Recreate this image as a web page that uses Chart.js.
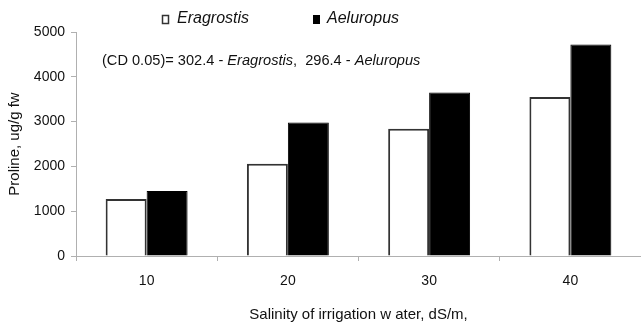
<!DOCTYPE html>
<html>
<head>
<meta charset="utf-8">
<script src="https://cdn.jsdelivr.net/npm/chart.js@4.4.0/dist/chart.umd.min.js"></script>
<style>
  html, body { margin: 0; padding: 0; background: #fff; }
  #wrap { width: 641px; height: 325px; }
</style>
</head>
<body>
<div id="wrap"><canvas id="prolineChart" width="641" height="325"></canvas></div>
<script>
// salinity of irrigation water, dS/m
const salinity = ["10", "20", "30", "40"];
// proline content, ug/g fw
const eragrostis = [1270, 2060, 2840, 3550];
const aeluropus = [1450, 2980, 3650, 4720];
const yTicks = [0, 1000, 2000, 3000, 4000, 5000];

const font = "'Liberation Sans', Arial, sans-serif";
const axisGrey = "#b0b0b0";

// legend + CD note drawn by hand so they sit where the original puts them
const notesPlugin = {
  id: "notes",
  afterDraw(chart) {
    const ctx = chart.ctx;
    ctx.save();
    ctx.textBaseline = "middle";
    ctx.fillStyle = "#111";

    // legend
    ctx.lineWidth = 1.5;
    ctx.strokeStyle = "#333";
    ctx.fillStyle = "#fff";
    ctx.fillRect(162.5, 15.5, 6, 8);
    ctx.strokeRect(162.5, 15.5, 6, 8);
    ctx.fillStyle = "#000";
    ctx.fillRect(313, 15, 7, 9);
    ctx.fillStyle = "#111";
    ctx.font = "italic 16px " + font;
    ctx.fillText("Eragrostis", 177, 19);
    ctx.fillText("Aeluropus", 327, 19);

    // CD note, species names in italics
    const parts = [
      ["(CD 0.05)= 302.4 - ", false],
      ["Eragrostis", true],
      [",  296.4 - ", false],
      ["Aeluropus", true],
    ];
    let x = 102;
    parts.forEach(([txt, it]) => {
      ctx.font = (it ? "italic " : "") + "14.6px " + font;
      ctx.fillText(txt, x, 61);
      x += ctx.measureText(txt).width;
    });
    ctx.restore();
  },
};

new Chart(document.getElementById("prolineChart").getContext("2d"), {
  type: "bar",
  data: {
    labels: salinity,
    datasets: [
      {
        label: "Eragrostis",
        data: eragrostis,
        backgroundColor: "#fff",
        borderColor: "#333",
        borderWidth: 2,
      },
      {
        label: "Aeluropus",
        data: aeluropus,
        backgroundColor: "#000",
        borderColor: "#000",
        borderWidth: 1,
      },
    ],
  },
  options: {
    responsive: false,
    animation: false,
    events: [],
    categoryPercentage: 0.58,
    barPercentage: 1.0,
    layout: { padding: { top: 32, right: 0, bottom: 0, left: 0 } },
    plugins: {
      legend: { display: false },
      tooltip: { enabled: false },
    },
    scales: {
      x: {
        afterFit: (scale) => {
          scale.height = 69;
        },
        grid: {
          offset: true,
          drawOnChartArea: false,
          tickLength: 5,
          color: axisGrey,
        },
        border: { color: axisGrey, width: 1 },
        ticks: {
          padding: 12,
          color: "#111",
          font: { family: font, size: 14 },
        },
        title: {
          display: true,
          text: "Salinity of irrigation w ater, dS/m,",
          color: "#111",
          font: { family: font, size: 15 },
          padding: { top: 8, bottom: 1 },
        },
      },
      y: {
        min: 0,
        max: 5000,
        afterBuildTicks: (scale) => {
          scale.ticks = yTicks.map((v) => ({ value: v }));
        },
        afterFit: (scale) => {
          scale.width = 76;
        },
        grid: {
          drawOnChartArea: false,
          tickLength: 5,
          color: axisGrey,
        },
        border: { color: axisGrey, width: 1 },
        ticks: {
          padding: 6,
          color: "#111",
          font: { family: font, size: 14 },
          callback: (v) => String(v),
        },
        title: {
          display: true,
          text: "Proline, ug/g fw",
          color: "#111",
          font: { family: font, size: 15 },
          padding: { top: 6, bottom: 4 },
        },
      },
    },
  },
  plugins: [notesPlugin],
});
</script>
</body>
</html>
